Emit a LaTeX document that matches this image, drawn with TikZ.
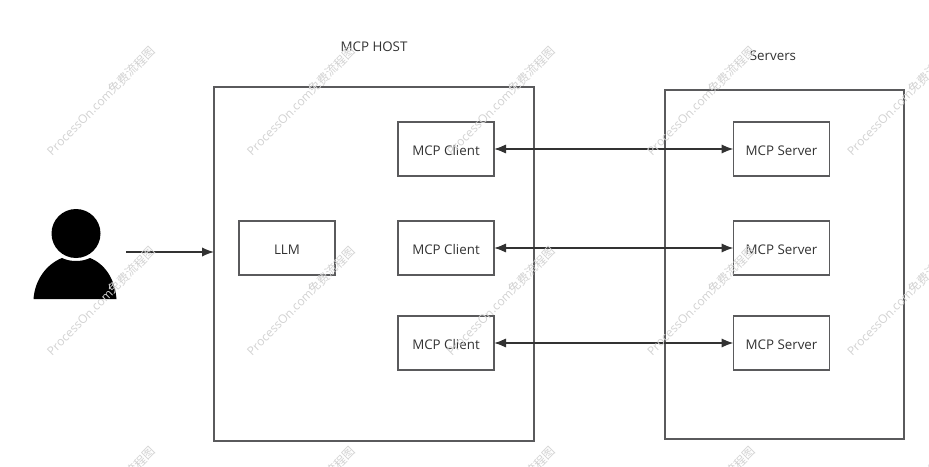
\documentclass[tikz,border=0pt]{standalone}
\usepackage{fontspec}
\setmainfont{Open Sans}
\newfontfamily\cjkfont{Noto Sans CJK SC}
\usetikzlibrary{arrows.meta}
\definecolor{boxgray}{RGB}{90,90,92}
\definecolor{linegray}{RGB}{50,50,50}
\definecolor{markgray}{RGB}{210,210,210}
\tikzset{
  box/.style={draw=boxgray,line width=1.3pt,inner sep=0pt,outer sep=0pt,font=\fontsize{10}{12}\selectfont,text=linegray,text height=9.2pt,text depth=0pt},
  smallbox/.style={box,minimum width=72pt,minimum height=40.5pt},
  caption/.style={font=\fontsize{10}{12}\selectfont,text=linegray},
  flow/.style={draw=linegray,line width=1pt,-{Latex[length=9pt,width=7pt]}},
  bothflow/.style={draw=linegray,line width=1.3pt,{Latex[length=9pt,width=7pt]}-{Latex[length=9pt,width=7pt]}},
  watermark/.style={text=markgray,rotate=45,font=\fontsize{9}{10}\selectfont}
}
\begin{document}
\begin{tikzpicture}[x=0.75pt,y=0.75pt,yscale=-1,xscale=1]
\useasboundingbox (0,0) rectangle (929,467);

%Outer boxes
\node [box,minimum width=240pt,minimum height=265.5pt] (host) at (374,264) {};
\node [box,minimum width=179.25pt,minimum height=261.75pt] (servers) at (784.5,264.5) {};
\node [caption] (hostlabel) at (374,46.5) {MCP HOST};
\node [caption] (serverslabel) at (773,55.5) {Servers};

%Inner boxes
\node [smallbox] (llm) at (287,248) {LLM};
\node [smallbox] (client1) at (446,149) {MCP Client};
\node [smallbox] (client2) at (446,248) {MCP Client};
\node [smallbox] (client3) at (446,343) {MCP Client};
\node [smallbox] (server1) at (781.5,149) {MCP Server};
\node [smallbox] (server2) at (781.5,248) {MCP Server};
\node [smallbox] (server3) at (781.5,343) {MCP Server};

%User icon
\fill [black] (33.5,299) .. controls (35,279) and (47,264) .. (62,258) .. controls (70,262) and (82,262) .. (90,258) .. controls (105,264) and (115,279) .. (116.5,299) -- cycle ;
\node [circle,fill=black,inner sep=0pt,outer sep=0pt,minimum size=36.75pt] (user) at (76,233.5) {};

%Connectors
\coordinate (userout) at (126,252);
\draw [flow] (userout) -- (userout -| host.west);
\draw [bothflow] (client1) -- (server1);
\draw [bothflow] (client2) -- (server2);
\draw [bothflow] (client3) -- (server3);

%Watermark
\foreach \mx in {101,301,501,701,901}
  \foreach \my in {101,301,501}
    \node [watermark] at (\mx,\my) {ProcessOn.com{\cjkfont 免费流程图}};

\end{tikzpicture}
\end{document}
